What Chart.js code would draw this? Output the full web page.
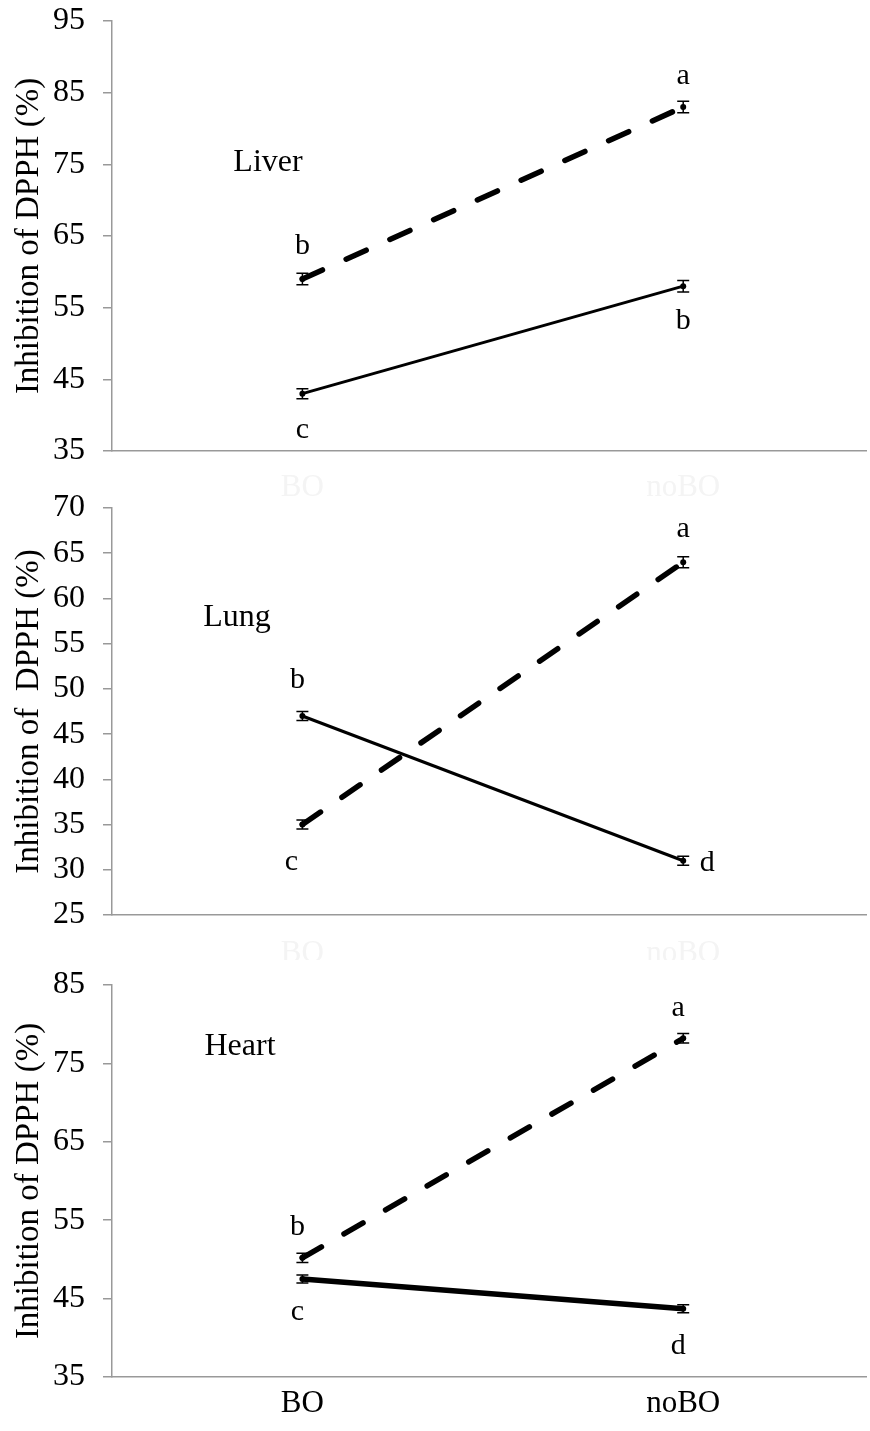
<!DOCTYPE html>
<html lang="en">
<head>
<meta charset="UTF-8">
<title>Inhibition of DPPH</title>
<script src="https://cdn.jsdelivr.net/npm/chart.js"></script>
<style>
  body { margin: 0; background: #fff; }
  .panel { position: absolute; left: 0; }
</style>
</head>
<body>
<canvas id="liverChart" class="panel" style="top:0" width="870" height="500"></canvas>
<canvas id="lungChart" class="panel" style="top:470px" width="870" height="490"></canvas>
<canvas id="heartChart" class="panel" style="top:945px" width="870" height="486"></canvas>

<script>
// data
const groups = ['BO', 'noBO'];

const liverDashed = [59, 83];
const liverDashedErr = [0.8, 0.8];
const liverSolid = [43, 58];
const liverSolidErr = [0.7, 0.8];
const liverDashedLetters = ['b', 'a'];
const liverSolidLetters = ['c', 'b'];
const liverTicks = [35, 45, 55, 65, 75, 85, 95];

const lungDashed = [35, 64];
const lungDashedErr = [0.5, 0.6];
const lungSolid = [47, 31];
const lungSolidErr = [0.5, 0.5];
const lungDashedLetters = ['c', 'a'];
const lungSolidLetters = ['b', 'd'];
const lungTicks = [25, 30, 35, 40, 45, 50, 55, 60, 65, 70];

const heartDashed = [50.2, 78.2];
const heartDashedErr = [0.6, 0.6];
const heartSolid = [47.5, 43.7];
const heartSolidErr = [0.5, 0.5];
const heartDashedLetters = ['b', 'a'];
const heartSolidLetters = ['c', 'd'];
const heartTicks = [35, 45, 55, 65, 75, 85];

const FONT = "'Liberation Serif', 'Times New Roman', serif";

// error bars + letters + organ name
const decorPlugin = {
  id: 'decor',
  afterDatasetsDraw(chart) {
    const ctx = chart.ctx;
    const y = chart.scales.y;
    const o = chart.options.plugins.decor;
    ctx.save();
    chart.data.datasets.forEach((ds, di) => {
      const meta = chart.getDatasetMeta(di);
      meta.data.forEach((pt, i) => {
        const v = ds.data[i].y;
        const e = ds.errs[i];
        const top = y.getPixelForValue(v + e);
        const bot = y.getPixelForValue(v - e);
        ctx.strokeStyle = '#000';
        ctx.lineWidth = 1.5;
        ctx.beginPath();
        ctx.moveTo(pt.x, top); ctx.lineTo(pt.x, bot);
        ctx.moveTo(pt.x - 6, top); ctx.lineTo(pt.x + 6, top);
        ctx.moveTo(pt.x - 6, bot); ctx.lineTo(pt.x + 6, bot);
        ctx.stroke();

        const off = o.offsets[di][i];
        ctx.fillStyle = '#000';
        ctx.font = '30px ' + FONT;
        ctx.textAlign = 'center';
        ctx.textBaseline = 'middle';
        ctx.fillText(ds.letters[i], pt.x + off[0], pt.y + off[1]);
      });
    });
    const a = chart.chartArea;
    ctx.font = '32px ' + FONT;
    ctx.textAlign = 'center';
    ctx.textBaseline = 'middle';
    ctx.fillText(o.organ, a.left + o.organPos[0], a.top + o.organPos[1]);
    ctx.restore();
  }
};

function makePanel(id, p) {
  const pts = arr => arr.map((v, i) => ({ x: i, y: v }));
  new Chart(document.getElementById(id), {
    type: 'line',
    data: {
      datasets: [{
        data: pts(p.dashed),
        errs: p.dashedErr,
        letters: p.dashedLetters,
        borderColor: '#000',
        backgroundColor: '#000',
        borderWidth: 5.5,
        borderDash: [22, 26],
        borderCapStyle: 'round',
        pointRadius: 3,
        pointBorderWidth: 0
      }, {
        data: pts(p.solid),
        errs: p.solidErr,
        letters: p.solidLetters,
        borderColor: '#000',
        backgroundColor: '#000',
        borderWidth: p.solidWidth,
        pointRadius: 3,
        pointBorderWidth: 0
      }]
    },
    options: {
      responsive: false,
      animation: false,
      layout: { padding: { top: p.padTop, left: 0, right: 0, bottom: 0 } },
      plugins: {
        legend: { display: false },
        tooltip: { enabled: false },
        decor: { offsets: p.offsets, organ: p.organ, organPos: p.organPos }
      },
      scales: {
        x: {
          type: 'linear',
          min: -0.5,
          max: 1.48,
          afterFit: s => { s.height = p.xHeight; s.paddingLeft = 0; s.paddingRight = 0; },
          border: { color: '#999', width: 1.5 },
          grid: { display: false },
          ticks: {
            stepSize: 1,
            includeBounds: false,
            padding: p.xPad,
            color: p.xColor,
            font: { family: FONT, size: 31 },
            callback: v => groups[v]
          }
        },
        y: {
          min: p.ticks[0],
          max: p.ticks[p.ticks.length - 1],
          afterFit: s => { s.width = 112; s.paddingTop = 0; s.paddingBottom = 0; },
          afterBuildTicks: s => { s.ticks = p.ticks.map(v => ({ value: v })); },
          border: { color: '#999', width: 1.5 },
          grid: { drawOnChartArea: false, color: '#999', lineWidth: 1.5, tickLength: 9 },
          ticks: { color: '#000', padding: 18, font: { family: FONT, size: 32 } },
          title: {
            display: true,
            text: p.title,
            color: '#000',
            padding: { top: 10, bottom: 0 },
            font: { family: FONT, size: 33 }
          }
        }
      }
    },
    plugins: [decorPlugin]
  });
}

makePanel('liverChart', {
  dashed: liverDashed, dashedErr: liverDashedErr, dashedLetters: liverDashedLetters,
  solid: liverSolid, solidErr: liverSolidErr, solidLetters: liverSolidLetters,
  ticks: liverTicks, solidWidth: 3,
  title: 'Inhibition of DPPH (%)',
  organ: 'Liver', organPos: [156, 142],
  offsets: [[[0, -33], [0, -31]], [[0, 36], [0, 35]]],
  padTop: 21, xHeight: 49, xPad: 10, xColor: '#f4f4f4'
});

makePanel('lungChart', {
  dashed: lungDashed, dashedErr: lungDashedErr, dashedLetters: lungDashedLetters,
  solid: lungSolid, solidErr: lungSolidErr, solidLetters: lungSolidLetters,
  ticks: lungTicks, solidWidth: 3,
  title: 'Inhibition of  DPPH (%)',
  organ: 'Lung', organPos: [125, 110],
  offsets: [[[-11, 38], [0, -33]], [[-5, -36], [24, 2]]],
  padTop: 38, xHeight: 45, xPad: 12, xColor: '#f4f4f4'
});

makePanel('heartChart', {
  dashed: heartDashed, dashedErr: heartDashedErr, dashedLetters: heartDashedLetters,
  solid: heartSolid, solidErr: heartSolidErr, solidLetters: heartSolidLetters,
  ticks: heartTicks, solidWidth: 5.5,
  title: 'Inhibition of DPPH (%)',
  organ: 'Heart', organPos: [128, 62],
  offsets: [[[-5, -31], [-5, -30]], [[-5, 33], [-5, 37]]],
  padTop: 40, xHeight: 54, xPad: 0, xColor: '#000'
});
</script>
</body>
</html>
